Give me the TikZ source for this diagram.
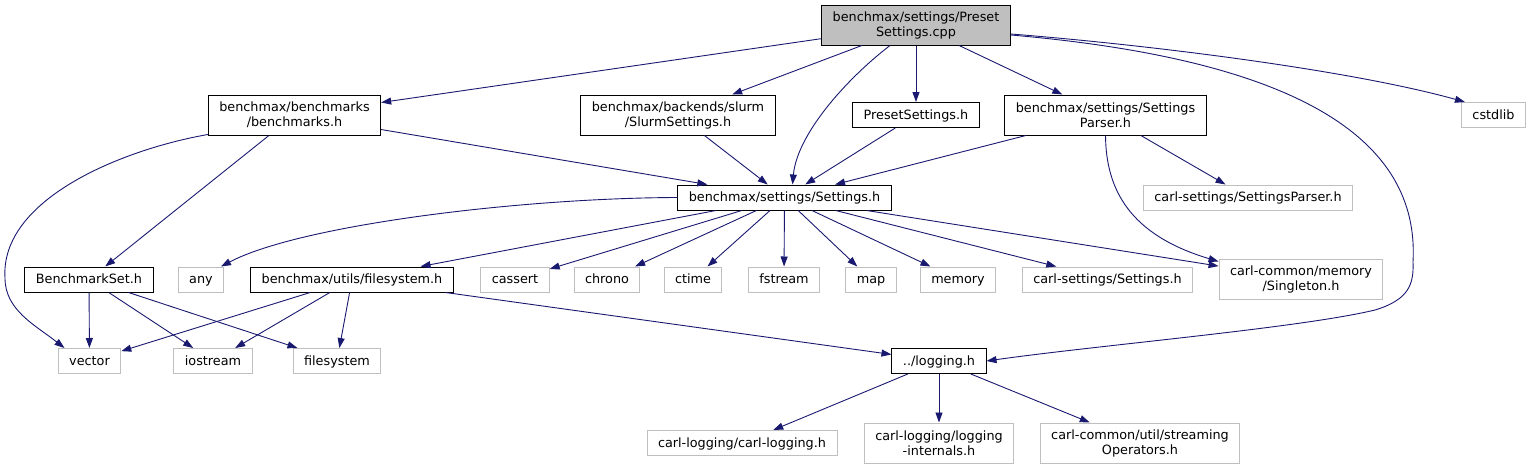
\documentclass[tikz,border=0pt]{standalone}
\usepackage{fontspec}
\usepackage{xcolor}
\usepackage{tikz}
\usetikzlibrary{arrows.meta}
\newfontfamily\doxfamily{DejaVu Sans}
\newcommand{\doxfont}{\doxfamily\fontsize{12.8}{15}\selectfont}
\definecolor{edgeblue}{RGB}{25,25,112}
\definecolor{sysgray}{RGB}{191,191,191}
\tikzset{
  docbox/.style  = {draw=black, fill=white, line width=1pt, font=\doxfont,
                    inner xsep=11pt, inner ysep=0pt, minimum height=25pt,
                    text height=10pt, text depth=1.6pt},
  sysbox/.style  = {docbox, draw=sysgray},
  srcbox/.style  = {docbox, fill=sysgray},
  twoline/.style = {docbox, align=center, minimum height=40pt,
                    text height=, text depth=},
  incl/.style    = {-{Triangle[length=10pt,width=7pt]}, edgeblue, line width=0.9pt},
}

\begin{document}
\begin{tikzpicture}[x=1pt, y=-1pt]
\useasboundingbox (0, 0) rectangle (1532, 469);
\node[srcbox, twoline, fill=sysgray] (cpp) at (916, 25) {benchmax/settings/Preset\\Settings.cpp};
\node[twoline] (benchmarks) at (294.5, 115) {benchmax/benchmarks\\/benchmarks.h};
\node[twoline] (slurm) at (678, 115) {benchmax/backends/slurm\\/SlurmSettings.h};
\node[docbox] (presetH) at (916, 115) {PresetSettings.h};
\node[twoline] (parser) at (1105.5, 115) {benchmax/settings/Settings\\Parser.h};
\node[sysbox] (cstdlib) at (1493.5, 115) {cstdlib};
\node[docbox] (settings) at (784.5, 197.5) {benchmax/settings/Settings.h};
\node[sysbox] (carlparser) at (1248, 197.5) {carl-settings/SettingsParser.h};
\node[docbox] (benchset) at (89, 279.5) {BenchmarkSet.h};
\node[sysbox] (any) at (201, 279.5) {any};
\node[docbox] (fsH) at (352, 279.5) {benchmax/utils/filesystem.h};
\node[sysbox] (cassert) at (515, 279.5) {cassert};
\node[sysbox] (chrono) at (607, 279.5) {chrono};
\node[sysbox] (ctime) at (693, 279.5) {ctime};
\node[sysbox] (fstream) at (784, 279.5) {fstream};
\node[sysbox] (map) at (871, 279.5) {map};
\node[sysbox] (memory) at (958, 279.5) {memory};
\node[sysbox] (carlsettings) at (1107.5, 279.5) {carl-settings/Settings.h};
\node[twoline, draw=sysgray] (singleton) at (1301, 279) {carl-common/memory\\/Singleton.h};
\node[sysbox] (vector) at (89.5, 361) {vector};
\node[sysbox] (iostream) at (213, 361) {iostream};
\node[sysbox] (filesystem) at (337, 361) {filesystem};
\node[docbox] (logging) at (939, 361) {../logging.h};
\node[sysbox] (carllogging) at (742, 443) {carl-logging/carl-logging.h};
\node[twoline, draw=sysgray] (internals) at (939, 443) {carl-logging/logging\\-internals.h};
\node[twoline, draw=sysgray] (streaming) at (1140, 443) {carl-common/util/streaming\\Operators.h};

\draw[incl] (cpp) -- (benchmarks) ;
\draw[incl] (cpp) -- (slurm) ;
\draw[incl] ([xshift=-26pt]cpp.south) .. controls (845, 80) and (797, 135) .. ([xshift=8pt]settings.north) ;
\draw[incl] (cpp) -- (presetH) ;
\draw[incl] (cpp) -- (parser) ;
\draw[incl] ([yshift=-10pt]cpp.east) .. controls (1300, 60) and (1420, 140) .. (1413, 262)
  .. controls (1414, 285) and (1408, 300) .. (1375, 310)
  .. controls (1300, 328) and (1100, 345) .. (logging.east) ;
\draw[incl] ([yshift=-9pt]cpp.east) .. controls (1150, 45) and (1350, 70) .. ([xshift=4pt]cstdlib.north west) ;
\draw[incl] (benchmarks) -- (settings) ;
\draw[incl] (benchmarks) -- (benchset) ;
\draw[incl] ([yshift=1pt]benchmarks.south west) .. controls (120, 150) and (0, 200) .. (5, 278)
  .. controls (5, 310) and (35, 325) .. ([xshift=-25pt]vector.north) ;
\draw[incl] (slurm) -- (settings) ;
\draw[incl] (presetH) -- (settings) ;
\draw[incl] (parser) -- (settings) ;
\draw[incl] (parser) -- (carlparser) ;
\draw[incl] (parser.south) .. controls (1106, 190) and (1130, 235) .. ([yshift=-3pt]singleton.north west) ;
\draw[incl] (settings.west) .. controls (520, 198) and (300, 225) .. ([xshift=20pt]any.north) ;
\draw[incl] (settings) -- (fsH) ;
\draw[incl] (settings) -- (cassert) ;
\draw[incl] (settings) -- (chrono) ;
\draw[incl] (settings) -- (ctime) ;
\draw[incl] (settings) -- (fstream) ;
\draw[incl] (settings) -- (map) ;
\draw[incl] (settings) -- (memory) ;
\draw[incl] (settings) -- (carlsettings) ;
\draw[incl] (settings) -- (singleton) ;
\draw[incl] (benchset) -- (vector) ;
\draw[incl] (benchset) -- (iostream) ;
\draw[incl] (benchset) -- (filesystem) ;
\draw[incl] (fsH) -- (vector) ;
\draw[incl] (fsH) -- (iostream) ;
\draw[incl] (fsH) -- (filesystem) ;
\draw[incl] (fsH) -- (logging) ;
\draw[incl] (logging) -- (carllogging) ;
\draw[incl] (logging) -- (internals) ;
\draw[incl] (logging) -- (streaming) ;
\end{tikzpicture}
\end{document}
